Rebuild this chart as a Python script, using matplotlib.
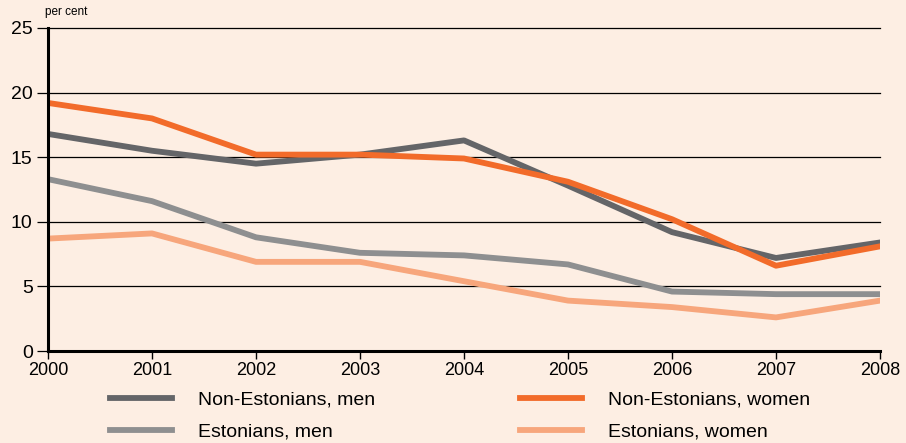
import matplotlib
matplotlib.use("Agg")
from matplotlib import pyplot as plt
from matplotlib import font_manager

years = [2000, 2001, 2002, 2003, 2004, 2005, 2006, 2007, 2008]
non_est_men = [16.8, 15.5, 14.5, 15.2, 16.3, 12.8, 9.2, 7.2, 8.4]
non_est_women = [19.2, 18.0, 15.2, 15.2, 14.9, 13.1, 10.2, 6.6, 8.1]
est_men = [13.3, 11.6, 8.8, 7.6, 7.4, 6.7, 4.6, 4.4, 4.4]
est_women = [8.7, 9.1, 6.9, 6.9, 5.4, 3.9, 3.4, 2.6, 3.9]
yticks = [0, 5, 10, 15, 20, 25]

names = {f.name for f in font_manager.fontManager.ttflist}
font = "Liberation Sans Narrow" if "Liberation Sans Narrow" in names else "Liberation Sans"
plt.rcParams["font.family"] = [font, "DejaVu Sans"]

bg = "#fdeee3"
fig = plt.figure(figsize=(9.06, 4.43), dpi=100, facecolor=bg)
ax = fig.add_axes([48 / 906, 92 / 443, 832 / 906, 323 / 443], facecolor=bg)

for v in yticks[1:]:
    ax.axhline(v, color="black", lw=0.9, zorder=1, clip_on=False)

lw = 4.2
ax.plot(years, est_women, color="#f7a67c", lw=lw, label="Estonians, women", zorder=3)
ax.plot(years, est_men, color="#8e8f90", lw=lw, label="Estonians, men", zorder=3)
ax.plot(years, non_est_men, color="#646568", lw=lw, label="Non-Estonians, men", zorder=4)
ax.plot(years, non_est_women, color="#f26b2a", lw=lw, label="Non-Estonians, women", zorder=4)

ax.set_xlim(2000, 2008)
ax.set_ylim(0, 25)
ax.set_xticks(years)
ax.set_yticks(yticks)
ax.tick_params(axis="x", direction="out", length=6, width=1, labelsize=13, pad=2)
ax.tick_params(axis="y", direction="out", length=8, width=0.9, labelsize=14, pad=3)
for s in ["top", "right"]:
    ax.spines[s].set_visible(False)
ax.spines["left"].set_linewidth(2.2)
ax.spines["bottom"].set_linewidth(2.2)
ax.spines["left"].set_zorder(5)
ax.spines["bottom"].set_zorder(5)

fig.text(45 / 906, 1 - 12 / 443, "per cent", fontsize=8.5, va="center", ha="left")

h, l = ax.get_legend_handles_labels()
opts = dict(frameon=False, loc="upper left", fontsize=14, handlelength=3.2,
            handletextpad=1.3, labelspacing=0.75, borderpad=0, borderaxespad=0)
fig.legend([h[2], h[1]], [l[2], l[1]], bbox_to_anchor=(110 / 906, 1 - 391 / 443), **opts)
fig.legend([h[3], h[0]], [l[3], l[0]], bbox_to_anchor=(520 / 906, 1 - 391 / 443), **opts)

fig.savefig("out.png", dpi=100, facecolor=bg)
